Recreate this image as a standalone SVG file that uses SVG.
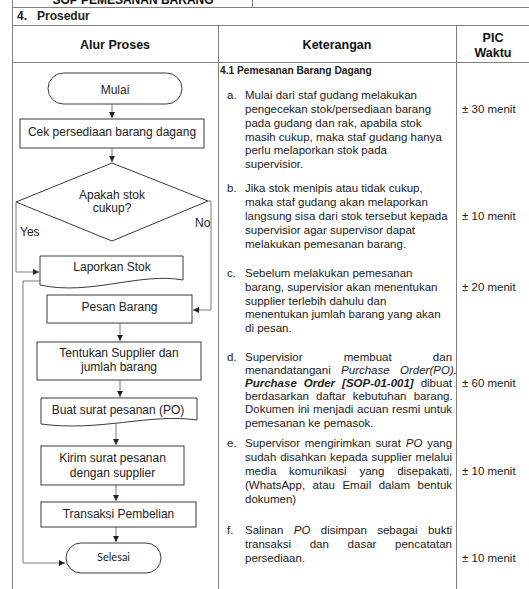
<svg xmlns="http://www.w3.org/2000/svg" width="529" height="589" viewBox="0 0 529 589">
<style>
  .tbl { stroke: #808080; stroke-width: 1; fill: none; }
  .shape { fill: #ffffff; stroke: #3a3a3a; stroke-width: 1; }
  .conn { fill: none; stroke: #7a7a7a; stroke-width: 1; }
  .fc { font-family: "Liberation Sans", Arial, sans-serif; font-size: 12px; fill: #222; text-anchor: middle; }
  .lbl { font-family: "Liberation Sans", Arial, sans-serif; font-size: 12px; fill: #222; }
  .hd { font-family: "Liberation Sans", Arial, sans-serif; font-size: 12.5px; font-weight: bold; fill: #111; text-anchor: middle; }
  .bd { font-family: "Liberation Sans", Arial, sans-serif; font-size: 11.5px; fill: #222; }
  .bold { font-weight: bold; }
  .it { font-style: italic; }
  .pic { font-family: "Liberation Sans", Arial, sans-serif; font-size: 11.5px; fill: #222; }
</style>
<defs>
  <marker id="arr" markerWidth="6" markerHeight="6" refX="6" refY="3" orient="auto" markerUnits="userSpaceOnUse">
    <path d="M0,0 L6,3 L0,6 z" fill="#222"/>
  </marker>
</defs>
<rect x="0" y="0" width="529" height="589" fill="#ffffff"/>

<g id="table">
  <line class="tbl" x1="12.5" y1="0" x2="12.5" y2="589"/>
  <line class="tbl" x1="252.5" y1="0" x2="252.5" y2="7"/>
  <line class="tbl" x1="12" y1="7.5" x2="529" y2="7.5"/>
  <line class="tbl" x1="12" y1="25.5" x2="529" y2="25.5"/>
  <line class="tbl" x1="12" y1="62.5" x2="529" y2="62.5"/>
  <line class="tbl" x1="218.5" y1="25.5" x2="218.5" y2="589"/>
  <line class="tbl" x1="456.5" y1="25.5" x2="456.5" y2="589"/>
  <text x="133" y="4" class="hd" style="font-size:12px">SOP PEMESANAN BARANG</text>
  <text x="17" y="20" class="bd bold" style="font-size:12px">4.</text>
  <text x="37" y="20" class="bd bold" style="font-size:12px">Prosedur</text>
  <text x="115" y="49" class="hd">Alur Proses</text>
  <text x="337" y="49" class="hd">Keterangan</text>
  <text x="493" y="42" class="hd">PIC</text>
  <text x="493" y="57" class="hd">Waktu</text>
</g>

<g id="connectors">
  <path class="conn" d="M112,104 V118" marker-end="url(#arr)"/>
  <path class="conn" d="M112,148 V162" marker-end="url(#arr)"/>
  <path class="conn" d="M16,202 V272 H39" marker-end="url(#arr)"/>
  <path class="conn" d="M208,201 H211 V310 H193" marker-end="url(#arr)"/>
  <path class="conn" d="M120,323 V341" marker-end="url(#arr)"/>
  <path class="conn" d="M120,380 V397" marker-end="url(#arr)"/>
  <path class="conn" d="M116,424 V445" marker-end="url(#arr)"/>
  <path class="conn" d="M116,485 V501" marker-end="url(#arr)"/>
  <path class="conn" d="M116,527 V542" marker-end="url(#arr)"/>
  <path class="conn" d="M40,281 H23 V563 H65" marker-end="url(#arr)"/>
  <text x="20" y="236" class="lbl">Yes</text>
  <text x="195" y="227" class="lbl">No</text>
</g>

<g id="mulai">
  <rect class="shape" x="48" y="73" width="134" height="31" rx="15.5" ry="15.5"/>
  <text x="115" y="94" class="fc">Mulai</text>
</g>
<g id="cek">
  <rect class="shape" x="20" y="119" width="184" height="29"/>
  <text x="112" y="136" class="fc">Cek persediaan barang dagang</text>
</g>
<g id="apakah">
  <polygon class="shape" points="112,163 208,201 112,241 16,202"/>
  <text x="112" y="199" class="fc">Apakah stok</text>
  <text x="112" y="212" class="fc">cukup?</text>
</g>
<g id="laporkan">
  <path class="shape" d="M40,256 H183 V280 C140,272 90,296 40,285 Z"/>
  <text x="112" y="271" class="fc">Laporkan Stok</text>
</g>
<g id="pesan">
  <rect class="shape" x="47" y="295" width="145" height="28"/>
  <text x="119.5" y="311" class="fc">Pesan Barang</text>
</g>
<g id="tentukan">
  <rect class="shape" x="37" y="342" width="164" height="38"/>
  <text x="119" y="357" class="fc">Tentukan Supplier dan</text>
  <text x="119" y="371" class="fc">jumlah barang</text>
</g>
<g id="buat">
  <path class="shape" d="M41,398 H197 V420 C150,413 100,432 41,424 Z"/>
  <text x="118" y="414" class="fc">Buat surat pesanan (PO)</text>
</g>
<g id="kirim">
  <rect class="shape" x="41" y="446" width="143" height="39"/>
  <text x="112.5" y="462" class="fc">Kirim surat pesanan</text>
  <text x="112.5" y="477" class="fc">dengan supplier</text>
</g>
<g id="transaksi">
  <rect class="shape" x="41" y="502" width="155" height="25"/>
  <text x="118.5" y="518" class="fc">Transaksi Pembelian</text>
</g>
<g id="selesai">
  <rect class="shape" x="66" y="543" width="95" height="30" rx="15" ry="15"/>
  <text x="113.5" y="561" style="font-family:Lato, 'Open Sans', sans-serif; font-size:11px; fill:#222; text-anchor:middle">Selesai</text>
</g>

<g id="keterangan">
  <text x="220" y="74" class="bd bold" style="font-size:10.2px">4.1 Pemesanan Barang Dagang</text>

  <text x="227" y="99" class="bd">a.</text>
  <text class="bd">
    <tspan x="245" y="99">Mulai dari staf gudang melakukan</tspan>
    <tspan x="245" y="113">pengecekan stok/persediaan barang</tspan>
    <tspan x="245" y="127">pada gudang dan rak, apabila stok</tspan>
    <tspan x="245" y="141">masih cukup, maka staf gudang hanya</tspan>
    <tspan x="245" y="154">perlu melaporkan stok pada</tspan>
    <tspan x="245" y="168">supervisior.</tspan>
  </text>

  <text x="227" y="192" class="bd">b.</text>
  <text class="bd">
    <tspan x="245" y="192">Jika stok menipis atau tidak cukup,</tspan>
    <tspan x="245" y="206">maka staf gudang akan melaporkan</tspan>
    <tspan x="245" y="220">langsung sisa dari stok tersebut kepada</tspan>
    <tspan x="245" y="234">supervisior agar supervisor dapat</tspan>
    <tspan x="245" y="248">melakukan pemesanan barang.</tspan>
  </text>

  <text x="227" y="277" class="bd">c.</text>
  <text class="bd">
    <tspan x="245" y="277">Sebelum melakukan pemesanan</tspan>
    <tspan x="245" y="291">barang, supervisior akan menentukan</tspan>
    <tspan x="245" y="305">supplier terlebih dahulu dan</tspan>
    <tspan x="245" y="318">menentukan jumlah barang yang akan</tspan>
    <tspan x="245" y="332">di pesan.</tspan>
  </text>

  <text x="227" y="361" class="bd">d.</text>
  <text x="245" y="361" class="bd" style="word-spacing:38px">Supervisior membuat dan</text>
  <text x="245" y="374" class="bd" style="word-spacing:7.2px">menandatangani <tspan class="it">Purchase Order(PO).</tspan></text>
  <text x="245" y="387" class="bd" style="word-spacing:3.8px"><tspan class="bold it">Purchase Order [SOP-01-001]</tspan> dibuat</text>
  <text x="245" y="400" class="bd" style="word-spacing:4px">berdasarkan daftar kebutuhan barang.</text>
  <text x="245" y="413" class="bd" style="word-spacing:0.5px">Dokumen ini menjadi acuan resmi untuk</text>
  <text x="245" y="427" class="bd">pemesanan ke pemasok.</text>

  <text x="227" y="447" class="bd">e.</text>
  <text x="245" y="447" class="bd" style="word-spacing:1.6px">Supervisor mengirimkan surat <tspan class="it">PO</tspan> yang</text>
  <text x="245" y="461" class="bd" style="word-spacing:0.6px">sudah disahkan kepada supplier melalui</text>
  <text x="245" y="475" class="bd" style="word-spacing:9.6px">media komunikasi yang disepakati,</text>
  <text x="245" y="489" class="bd" style="word-spacing:4.3px">(WhatsApp, atau Email dalam bentuk</text>
  <text x="245" y="503" class="bd">dokumen)</text>

  <text x="227" y="534" class="bd">f.</text>
  <text x="245" y="534" class="bd" style="word-spacing:7.2px">Salinan <tspan class="it">PO</tspan> disimpan sebagai bukti</text>
  <text x="245" y="548" class="bd" style="word-spacing:15.5px">transaksi dan dasar pencatatan</text>
  <text x="245" y="562" class="bd">persediaan.</text>
</g>

<g id="pic">
  <text x="462" y="113" class="pic">± 30 menit</text>
  <text x="462" y="220" class="pic">± 10 menit</text>
  <text x="462" y="291" class="pic">± 20 menit</text>
  <text x="462" y="387" class="pic">± 60 menit</text>
  <text x="462" y="475" class="pic">± 10 menit</text>
  <text x="462" y="562" class="pic">± 10 menit</text>
</g>
</svg>
